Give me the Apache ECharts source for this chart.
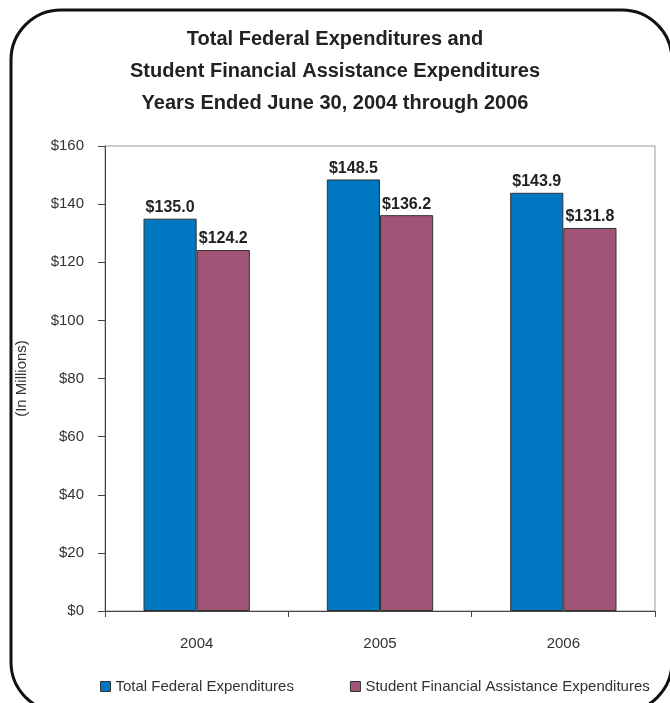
<!DOCTYPE html>
<html>
<head>
<meta charset="utf-8">
<script src="https://cdn.jsdelivr.net/npm/echarts@6/dist/echarts.min.js"></script>
<style>
html, body { margin: 0; padding: 0; background: #fff; }
#main { width: 670px; height: 703px; }
</style>
</head>
<body>
<div id="main"></div>
<script>
// chart data
const years = ['2004', '2005', '2006'];
const totalFederal = [135.0, 148.5, 143.9];
const studentAid = [124.2, 136.2, 131.8];
const yTicks = [0, 20, 40, 60, 80, 100, 120, 140, 160];

const FONT = '"Liberation Sans", Arial, sans-serif';

function money(v) {
    return '$' + v.toFixed(1);
}

let chart = echarts.init(document.getElementById('main'));
let option = {
    animation: false,
    textStyle: {fontFamily: FONT},
    title: {
        text: 'Total Federal Expenditures and\nStudent Financial Assistance Expenditures\nYears Ended June 30, 2004 through 2006',
        left: 'center',
        top: 18,
        textStyle: {
            fontFamily: FONT,
            fontSize: 20,
            fontWeight: 'bold',
            color: '#222',
            lineHeight: 32
        }
    },
    // rounded frame around the whole chart (runs off the right and bottom edges)
    graphic: [{
        type: 'rect',
        shape: {x: 11, y: 10, width: 661, height: 702, r: 50},
        style: {fill: 'none', stroke: '#111', lineWidth: 3},
        silent: true
    }],
    legend: {
        bottom: 4,
        left: 95,
        itemGap: 56,
        itemWidth: 10,
        itemHeight: 10,
        icon: 'rect',
        itemStyle: {borderColor: '#333', borderWidth: 1},
        textStyle: {fontFamily: FONT, fontSize: 15, color: '#333'},
        data: ['Total Federal Expenditures', 'Student Financial Assistance Expenditures']
    },
    grid: {
        left: 105,
        right: 15,
        top: 146,
        bottom: 92,
        show: true,
        borderColor: '#999',
        borderWidth: 1,
        containLabel: false
    },
    xAxis: {
        type: 'category',
        data: years,
        axisLine: {lineStyle: {color: '#444', width: 1}},
        axisTick: {show: true, length: 6, lineStyle: {color: '#444'}},
        axisLabel: {fontFamily: FONT, fontSize: 15, color: '#333', margin: 25}
    },
    yAxis: {
        type: 'value',
        min: yTicks[0],
        max: yTicks[yTicks.length - 1],
        interval: 20,
        name: '(In Millions)',
        nameLocation: 'middle',
        nameGap: 76,
        nameTextStyle: {fontFamily: FONT, fontSize: 15, color: '#333'},
        axisLine: {show: true, lineStyle: {color: '#444', width: 1}},
        axisTick: {show: true, length: 7, lineStyle: {color: '#444'}},
        splitLine: {show: false},
        axisLabel: {
            fontFamily: FONT, fontSize: 15, color: '#333', margin: 21,
            formatter: v => '$' + v
        }
    },
    series: [{
        name: 'Total Federal Expenditures',
        type: 'bar',
        data: totalFederal,
        barGap: '0%',
        barCategoryGap: '42%',
        itemStyle: {color: '#0078C1', borderColor: '#333', borderWidth: 1},
        label: {
            show: true, position: 'top', distance: 3,
            fontFamily: FONT, fontSize: 16, fontWeight: 'bold', color: '#222',
            formatter: p => money(p.value)
        }
    }, {
        name: 'Student Financial Assistance Expenditures',
        type: 'bar',
        data: studentAid,
        itemStyle: {color: '#A05577', borderColor: '#333', borderWidth: 1},
        label: {
            show: true, position: 'top', distance: 3,
            fontFamily: FONT, fontSize: 16, fontWeight: 'bold', color: '#222',
            formatter: p => money(p.value)
        }
    }]
};
chart.setOption(option);
</script>
</body>
</html>
